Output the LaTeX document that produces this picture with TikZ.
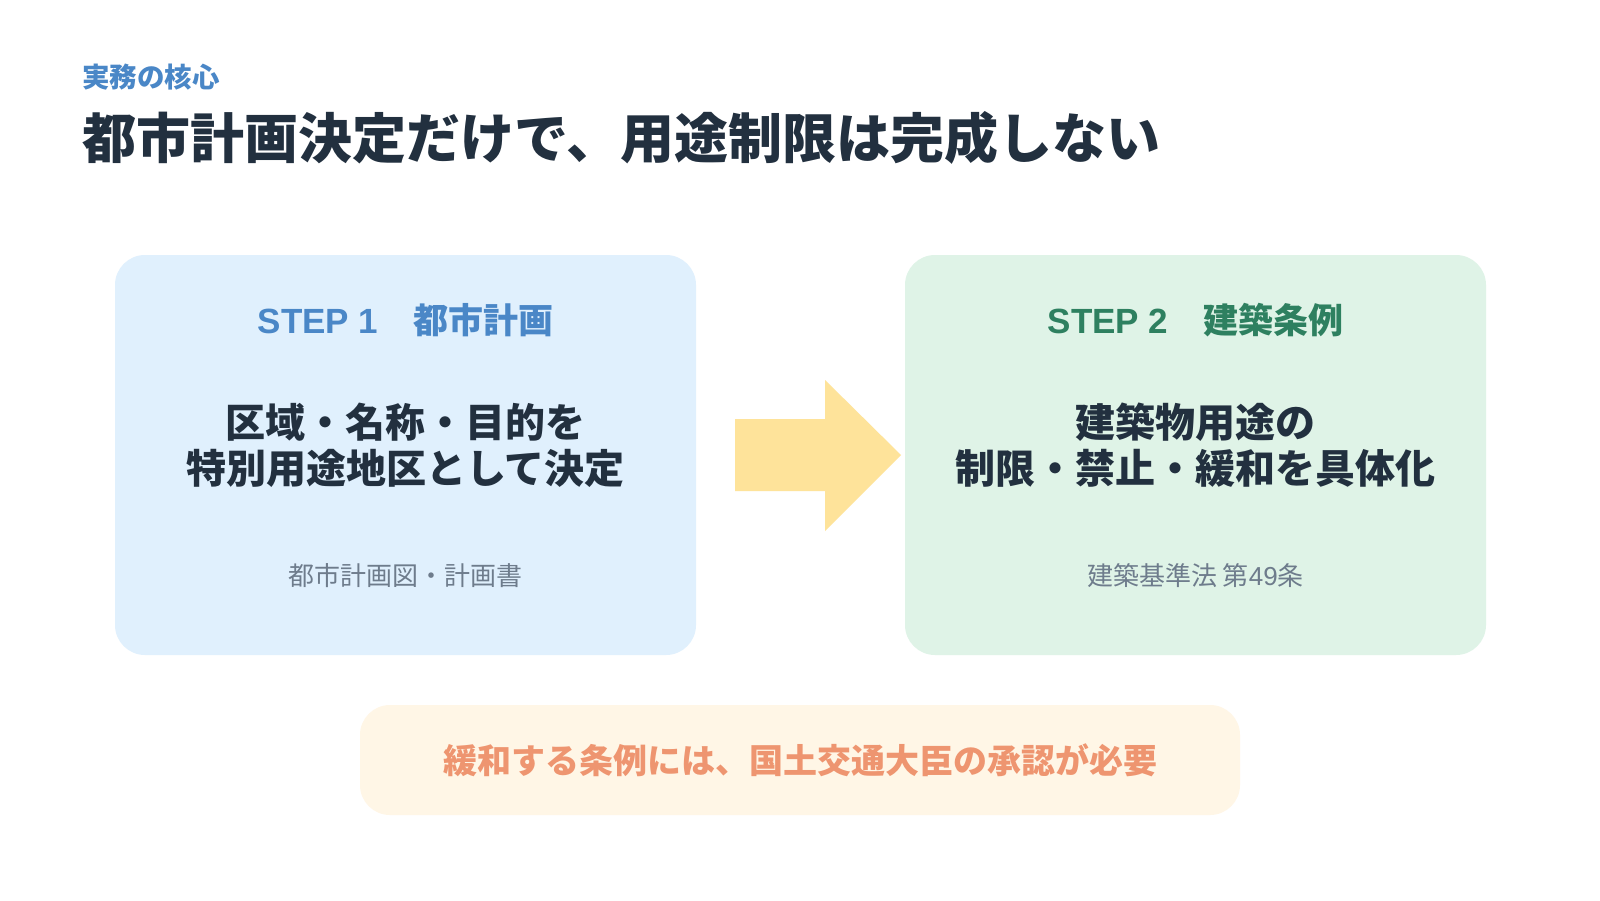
\documentclass[tikz,border=0pt]{standalone}
\usepackage{fontspec}
\setmainfont{Noto Sans CJK JP}
\newfontfamily\latinhead{Liberation Sans}
\definecolor{boxblue}{HTML}{E0F0FD}
\definecolor{boxgreen}{HTML}{DFF3E7}
\definecolor{arrowyellow}{HTML}{FEE39A}
\definecolor{boxcream}{HTML}{FFF6E6}
\definecolor{headblue}{HTML}{4A87C7}
\definecolor{headgreen}{HTML}{2E8060}
\definecolor{darktext}{HTML}{22303F}
\definecolor{graytext}{HTML}{6E7C8C}
\definecolor{orangetext}{HTML}{EE9570}
\tikzset{
  panel/.style={rounded corners=30pt, draw=none},
  kicker/.style={anchor=west, inner sep=0pt, text=headblue, font=\fontsize{27.5}{32}\selectfont\bfseries},
  bigtitle/.style={anchor=west, inner sep=0pt, text=darktext, font=\fontsize{54}{64}\selectfont\bfseries},
  stephead/.style={inner sep=0pt, font=\fontsize{35}{42}\selectfont\bfseries},
  mainline/.style={inner sep=0pt, align=center, text=darktext, font=\fontsize{40}{46}\selectfont\bfseries},
  subline/.style={inner sep=0pt, text=graytext, font=\fontsize{26}{30}\selectfont},
  notetext/.style={inner sep=0pt, text=orangetext, font=\fontsize{34}{40}\selectfont\bfseries}
}
\begin{document}
\begin{tikzpicture}[x=1pt,y=-1pt]
\useasboundingbox[fill=white] (0,0) rectangle (1600,900);
% titles
\node[kicker] (kick) at (82,77) {実務の核心};
\node[bigtitle] (title) at (82,138) {都市計画決定だけで、用途制限は完成しない};
% panels
\fill[panel, boxblue] (115,255) rectangle (696,655);
\fill[panel, boxgreen] (905,255) rectangle (1486,655);
% arrow
\fill[arrowyellow] (735,419) -- (825,419) -- (825,380) -- (901,455) -- (825,531) -- (825,491) -- (735,491) -- cycle;
% left panel text
\node[stephead, text=headblue] (s1) at (405.5,320) {{\latinhead STEP 1}　都市計画};
\node[mainline] (m1) at (405.5,445) {区域・名称・目的を\\特別用途地区として決定};
\node[subline] (sub1) at (405.5,576) {都市計画図・計画書};
% right panel text
\node[stephead, text=headgreen] (s2) at (1195.5,320) {{\latinhead STEP 2}　建築条例};
\node[mainline] (m2) at (1195.5,445) {建築物用途の\\制限・禁止・緩和を具体化};
\node[subline] (sub2) at (1195.5,576) {建築基準法 第{\latinhead 49}条};
% bottom note
\fill[panel, boxcream] (360,705) rectangle (1240,815);
\node[notetext] (note) at (800,760) {緩和する条例には、国土交通大臣の承認が必要};
\end{tikzpicture}
\end{document}
